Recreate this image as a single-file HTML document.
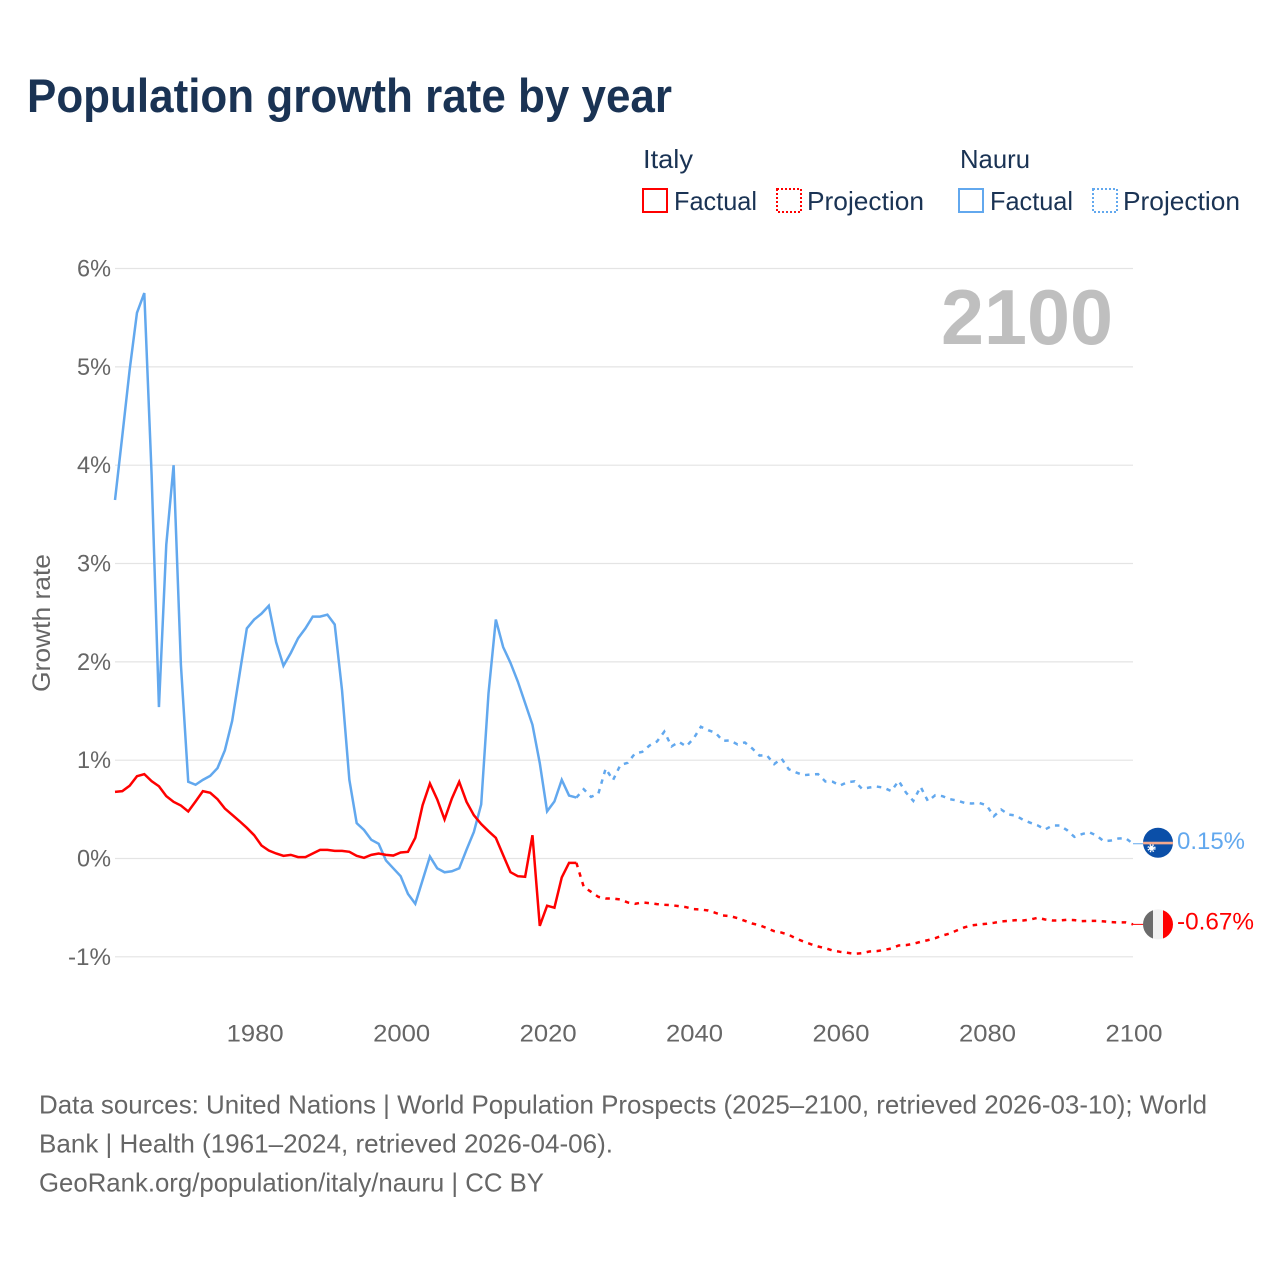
<!DOCTYPE html>
<html lang="en">
<head>
<meta charset="utf-8">
<title>Population growth rate by year</title>
<style>
html,body{margin:0;padding:0;background:#fff;}
svg{display:block;font-family:"Liberation Sans",sans-serif;}
</style>
</head>
<body>
<svg id="chart" xmlns="http://www.w3.org/2000/svg" width="1280" height="1280" viewBox="0 0 1280 1280">
  <rect x="0" y="0" width="1280" height="1280" fill="#fff"/>
  <text x="27" y="112" font-size="47" font-weight="bold" fill="#1a3354" textLength="645" lengthAdjust="spacingAndGlyphs">Population growth rate by year</text>

  <g font-size="26" fill="#1a3354">
    <text x="643" y="168" textLength="50" lengthAdjust="spacingAndGlyphs">Italy</text>
    <text x="960" y="168" textLength="70" lengthAdjust="spacingAndGlyphs">Nauru</text>
    <rect x="643" y="189" width="24" height="23" fill="none" stroke="#ff0000" stroke-width="2"/>
    <text x="674" y="210" textLength="83" lengthAdjust="spacingAndGlyphs">Factual</text>
    <rect x="777" y="189" width="24" height="23" fill="none" stroke="#ff0000" stroke-width="2" stroke-dasharray="2 2"/>
    <text x="807" y="210" textLength="117" lengthAdjust="spacingAndGlyphs">Projection</text>
    <rect x="959" y="189" width="24" height="23" fill="none" stroke="#62a8ee" stroke-width="2"/>
    <text x="990" y="210" textLength="83" lengthAdjust="spacingAndGlyphs">Factual</text>
    <rect x="1093" y="189" width="24" height="23" fill="none" stroke="#62a8ee" stroke-width="2" stroke-dasharray="2 2"/>
    <text x="1123" y="210" textLength="117" lengthAdjust="spacingAndGlyphs">Projection</text>
  </g>

  <g id="grid"></g>
  <g id="yticks"></g>
  <g id="xticks"></g>

  <text transform="translate(50,623) rotate(-90)" text-anchor="middle" font-size="25" fill="#666" textLength="138" lengthAdjust="spacingAndGlyphs">Growth rate</text>
  <text x="941" y="344" font-size="78" font-weight="bold" fill="#bfbfbf" textLength="172" lengthAdjust="spacingAndGlyphs">2100</text>

  <g id="series"></g>
  <g id="markers"></g>

  <g font-size="26" fill="#666">
    <text x="39" y="1113.5" textLength="1168" lengthAdjust="spacingAndGlyphs">Data sources: United Nations | World Population Prospects (2025–2100, retrieved 2026-03-10); World</text>
    <text x="39" y="1152.5" textLength="574" lengthAdjust="spacingAndGlyphs">Bank | Health (1961–2024, retrieved 2026-04-06).</text>
    <text x="39" y="1191.5" textLength="505" lengthAdjust="spacingAndGlyphs">GeoRank.org/population/italy/nauru | CC BY</text>
  </g>
</svg>
<script>
const yTickValues = [-1, 0, 1, 2, 3, 4, 5, 6];
const xTickYears = [1980, 2000, 2020, 2040, 2060, 2080, 2100];
const factualStartYear = 1961;
const projectionStartYear = 2024;

const italyFactual = [0.678,0.685,0.74,0.837,0.858,0.786,0.735,0.634,0.576,0.539,0.478,0.58,0.685,0.668,0.603,0.508,0.444,0.38,0.312,0.237,0.132,0.081,0.051,0.027,0.037,0.014,0.014,0.051,0.088,0.088,0.078,0.078,0.068,0.027,0.007,0.037,0.051,0.037,0.03,0.061,0.068,0.21,0.542,0.763,0.6,0.397,0.61,0.78,0.576,0.44,0.35,0.278,0.21,0.034,-0.139,-0.18,-0.186,0.237,-0.685,-0.48,-0.5,-0.193,-0.044,-0.044];
const italyProjection = [-0.044,-0.288,-0.339,-0.39,-0.407,-0.407,-0.417,-0.447,-0.461,-0.447,-0.454,-0.464,-0.471,-0.475,-0.485,-0.495,-0.515,-0.519,-0.529,-0.553,-0.58,-0.586,-0.607,-0.634,-0.661,-0.678,-0.708,-0.739,-0.753,-0.776,-0.814,-0.844,-0.871,-0.895,-0.912,-0.936,-0.949,-0.959,-0.969,-0.963,-0.946,-0.942,-0.93,-0.915,-0.885,-0.881,-0.868,-0.847,-0.83,-0.81,-0.783,-0.763,-0.73,-0.7,-0.68,-0.671,-0.664,-0.654,-0.64,-0.634,-0.627,-0.63,-0.62,-0.603,-0.62,-0.63,-0.63,-0.624,-0.627,-0.637,-0.634,-0.634,-0.64,-0.647,-0.65,-0.65,-0.67];
const nauruFactual = [3.646,4.3,4.97,5.55,5.75,3.9,1.54,3.19,4.0,1.97,0.78,0.75,0.8,0.84,0.92,1.1,1.4,1.87,2.34,2.43,2.49,2.57,2.2,1.96,2.09,2.24,2.34,2.46,2.46,2.48,2.38,1.71,0.8,0.36,0.29,0.19,0.15,-0.02,-0.1,-0.18,-0.36,-0.46,-0.22,0.02,-0.1,-0.14,-0.13,-0.1,0.09,0.27,0.55,1.68,2.43,2.15,1.99,1.8,1.58,1.36,0.97,0.48,0.58,0.8,0.64,0.62];
const nauruProjection = [0.62,0.705,0.627,0.66,0.915,0.797,0.95,0.973,1.068,1.085,1.15,1.19,1.29,1.14,1.186,1.14,1.22,1.34,1.305,1.278,1.197,1.2,1.16,1.18,1.12,1.047,1.05,0.96,1.017,0.908,0.875,0.847,0.854,0.858,0.783,0.78,0.742,0.776,0.785,0.708,0.722,0.732,0.719,0.685,0.79,0.671,0.586,0.729,0.583,0.644,0.634,0.603,0.59,0.566,0.559,0.566,0.542,0.43,0.498,0.447,0.437,0.393,0.363,0.336,0.295,0.336,0.336,0.288,0.22,0.247,0.268,0.234,0.176,0.183,0.203,0.207,0.15];

const SVG_NS = 'http://www.w3.org/2000/svg';
const RED = '#ff0000';
const BLUE = '#62a8ee';

function xScale(year) { return 115 + (year - 1961) * (1018 / 139); }
function yScale(value) { return 858.5 - value * 98.33; }
function make(tag, attrs, parent) {
  const el = document.createElementNS(SVG_NS, tag);
  Object.keys(attrs).forEach(function (k) { el.setAttribute(k, attrs[k]); });
  parent.appendChild(el);
  return el;
}
function linePath(startYear, values) {
  return values.map(function (v, i) {
    return (i ? 'L' : 'M') + xScale(startYear + i).toFixed(2) + ' ' + yScale(v).toFixed(2);
  }).join('');
}
function pctWidth(label) {
  let w = 0;
  for (const c of label) { w += c === '%' ? 20 : c === '-' ? 9 : c === '.' ? 7 : 14; }
  return w;
}

const grid = document.getElementById('grid');
const yticks = document.getElementById('yticks');
yTickValues.forEach(function (v) {
  const line = make('line', {x1: xScale(1961), x2: xScale(2100), y1: yScale(v), y2: yScale(v), stroke: '#e4e4e4', 'stroke-width': 1.2}, grid);
  
  
  const label = v + '%';
  const t = make('text', {x: 111, y: yScale(v) + 8, 'text-anchor': 'end', 'font-size': 24, fill: '#666', textLength: pctWidth(label), lengthAdjust: 'spacingAndGlyphs'}, yticks);
  
  
  t.textContent = label;
});

const xticks = document.getElementById('xticks');
xTickYears.forEach(function (yr) {
  const t = make('text', {x: xScale(yr) + 1, y: 1041.5, 'text-anchor': 'middle', 'font-size': 24, fill: '#666', textLength: 57, lengthAdjust: 'spacingAndGlyphs'}, xticks);
  
  
  t.textContent = String(yr);
});

const series = document.getElementById('series');
const nf = make('path', {d: linePath(factualStartYear, nauruFactual), fill: 'none', stroke: BLUE, 'stroke-width': 2.5, 'stroke-linejoin': 'miter'}, series);


const np = make('path', {d: linePath(projectionStartYear, nauruProjection), fill: 'none', stroke: BLUE, 'stroke-width': 2.5, 'stroke-dasharray': '4.5 5.5'}, series);


const itf = make('path', {d: linePath(factualStartYear, italyFactual), fill: 'none', stroke: RED, 'stroke-width': 2.5, 'stroke-linejoin': 'miter'}, series);


const itp = make('path', {d: linePath(projectionStartYear, italyProjection), fill: 'none', stroke: RED, 'stroke-width': 2.5, 'stroke-dasharray': '4.5 5.5'}, series);



const markers = document.getElementById('markers');
const defs = make('defs', {}, markers);
const clip = make('clipPath', {id: 'flag-clip'}, defs);
make('circle', {cx: 0, cy: 0, r: 15}, clip);

const nauruEnd = nauruProjection[nauruProjection.length - 1];
const italyEnd = italyProjection[italyProjection.length - 1];
const endX = xScale(2100);

const nConn = make('line', {x1: endX, x2: endX + 12, y1: yScale(nauruEnd), y2: yScale(nauruEnd), stroke: BLUE, 'stroke-width': 1}, markers);


const iConn = make('line', {x1: endX, x2: endX + 12, y1: yScale(italyEnd), y2: yScale(italyEnd), stroke: RED, 'stroke-width': 1}, markers);



const nFlag = make('g', {transform: 'translate(' + (endX + 25) + ',' + (yScale(nauruEnd) - 1) + ')', 'clip-path': 'url(#flag-clip)'}, markers);


make('rect', {x: -16, y: -16, width: 32, height: 32, fill: '#0b4fa8'}, nFlag);
make('rect', {x: -16, y: -1, width: 32, height: 2.6, fill: '#f3a98e'}, nFlag);
make('circle', {cx: -6.5, cy: 5.5, r: 2.5, fill: '#fff'}, nFlag);
make('circle', {cx: -6.5, cy: 5.5, r: 3.4, fill: 'none', stroke: '#fff', 'stroke-width': 1.4, 'stroke-dasharray': '1.4 1.4'}, nFlag);

const iFlag = make('g', {transform: 'translate(' + (endX + 25) + ',' + yScale(italyEnd) + ')', 'clip-path': 'url(#flag-clip)'}, markers);


make('rect', {x: -16, y: -16, width: 11, height: 32, fill: '#6b6b6b'}, iFlag);
make('rect', {x: -5, y: -16, width: 10, height: 32, fill: '#f0f0f0'}, iFlag);
make('rect', {x: 5, y: -16, width: 11, height: 32, fill: '#ff0000'}, iFlag);

const nLabel = make('text', {x: 1177, y: yScale(nauruEnd) + 5, 'font-size': 24, fill: BLUE, textLength: 68, lengthAdjust: 'spacingAndGlyphs'}, markers);


nLabel.textContent = nauruEnd.toFixed(2) + '%';
const iLabel = make('text', {x: 1177, y: yScale(italyEnd) + 5, 'font-size': 24, fill: RED, textLength: 77, lengthAdjust: 'spacingAndGlyphs'}, markers);


iLabel.textContent = italyEnd.toFixed(2) + '%';
</script>
</body>
</html>
